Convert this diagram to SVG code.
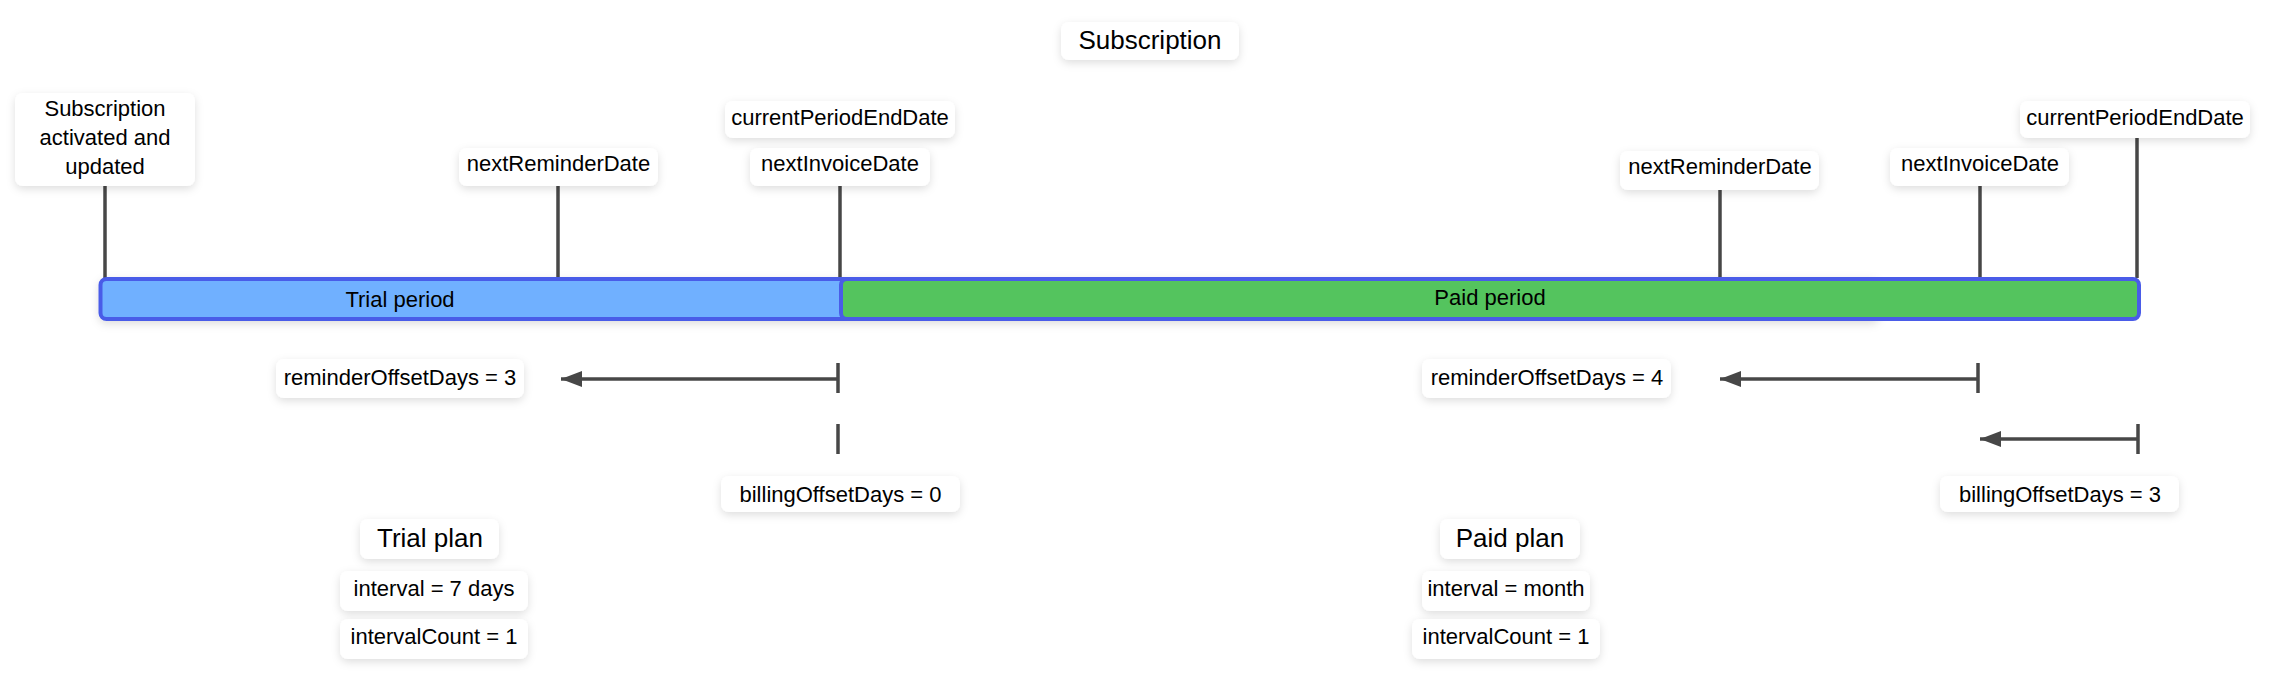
<svg xmlns="http://www.w3.org/2000/svg" width="2290" height="698" viewBox="0 0 2290 698">
<style>
.box{fill:#fff;filter:url(#sh)}
.t{font-family:"Liberation Sans",Arial,sans-serif;font-size:22px;fill:#000;text-anchor:middle;dominant-baseline:central}
.big{font-size:26px}
.ln{stroke:#474747;stroke-width:3.5;fill:none}
.ar{stroke:#474747;stroke-width:3.5;fill:none;marker-end:url(#ah)}
.bar{stroke:#4a5ce8;stroke-width:4}
</style>
<defs>
<filter id="sh" x="-20%" y="-30%" width="140%" height="180%">
<feDropShadow dx="0" dy="3" stdDeviation="4" flood-color="#000" flood-opacity="0.13"/>
</filter>
<marker id="ah" markerUnits="userSpaceOnUse" markerWidth="22" markerHeight="16" refX="21" refY="8" orient="auto">
<path d="M0,0 L21,8 L0,16 Z" fill="#474747"/>
</marker>
</defs>
<rect width="2290" height="698" fill="#fff"/>
<g id="connectors">
<line class="ln" x1="105" y1="186" x2="105" y2="278"/>
<line class="ln" x1="558" y1="186" x2="558" y2="278"/>
<line class="ln" x1="840" y1="186" x2="840" y2="278"/>
<line class="ln" x1="1720" y1="190" x2="1720" y2="278"/>
<line class="ln" x1="1980" y1="186" x2="1980" y2="278"/>
<line class="ln" x1="2137" y1="138" x2="2137" y2="278"/>
<line class="ln" x1="838" y1="363" x2="838" y2="393"/>
<line class="ar" x1="838" y1="379" x2="561" y2="379"/>
<line class="ln" x1="838" y1="424" x2="838" y2="454"/>
<line class="ln" x1="1978" y1="363" x2="1978" y2="393"/>
<line class="ar" x1="1978" y1="379" x2="1720" y2="379"/>
<line class="ln" x1="2138" y1="424" x2="2138" y2="454"/>
<line class="ar" x1="2138" y1="439" x2="1980" y2="439"/>
</g>
<g id="trial-period">
<rect class="bar" x="100.5" y="279" width="1777" height="40" rx="6" fill="#6fb0ff" filter="url(#sh)"/>
<text class="t" x="400" y="299">Trial period</text>
</g>
<g id="paid-period">
<rect class="bar" x="841" y="279" width="1298" height="40" rx="6" fill="#54c45e"/>
<text class="t" x="1490" y="297">Paid period</text>
</g>
<g id="title"><rect class="box" x="1061" y="22" width="178" height="38" rx="8"/><text class="t big" x="1150" y="40">Subscription</text></g>
<g id="activated"><rect class="box" x="15" y="93" width="180" height="93" rx="8"/>
<text class="t" x="105" y="108">Subscription</text><text class="t" x="105" y="137">activated and</text><text class="t" x="105" y="166">updated</text></g>
<g id="next-reminder-1"><rect class="box" x="459" y="148" width="199" height="38" rx="8"/><text class="t" x="558.5" y="163">nextReminderDate</text></g>
<g id="current-end-1"><rect class="box" x="725" y="101" width="230" height="37" rx="8"/><text class="t" x="840" y="117">currentPeriodEndDate</text></g>
<g id="next-invoice-1"><rect class="box" x="750" y="148" width="180" height="38" rx="8"/><text class="t" x="840" y="163">nextInvoiceDate</text></g>
<g id="next-reminder-2"><rect class="box" x="1620" y="151" width="199" height="39" rx="8"/><text class="t" x="1720" y="166">nextReminderDate</text></g>
<g id="next-invoice-2"><rect class="box" x="1890" y="148" width="179" height="38" rx="8"/><text class="t" x="1980" y="163">nextInvoiceDate</text></g>
<g id="current-end-2"><rect class="box" x="2020" y="101" width="230" height="37" rx="8"/><text class="t" x="2135" y="117">currentPeriodEndDate</text></g>
<g id="reminder-offset-3"><rect class="box" x="276" y="359" width="248" height="39" rx="8"/><text class="t" x="400" y="377">reminderOffsetDays = 3</text></g>
<g id="billing-offset-0"><rect class="box" x="721" y="476" width="239" height="36" rx="8"/><text class="t" x="840.5" y="494">billingOffsetDays = 0</text></g>
<g id="trial-plan"><rect class="box" x="360" y="519" width="139" height="40" rx="8"/><text class="t big" x="430" y="538">Trial plan</text></g>
<g id="trial-interval"><rect class="box" x="340" y="571" width="188" height="40" rx="8"/><text class="t" x="434" y="588">interval = 7 days</text></g>
<g id="trial-count"><rect class="box" x="340" y="619" width="188" height="40" rx="8"/><text class="t" x="434" y="636">intervalCount = 1</text></g>
<g id="reminder-offset-4"><rect class="box" x="1422" y="359" width="249" height="39" rx="8"/><text class="t" x="1547" y="377">reminderOffsetDays = 4</text></g>
<g id="billing-offset-3"><rect class="box" x="1940" y="476" width="239" height="36" rx="8"/><text class="t" x="2060" y="494">billingOffsetDays = 3</text></g>
<g id="paid-plan"><rect class="box" x="1440" y="519" width="140" height="40" rx="8"/><text class="t big" x="1510" y="538">Paid plan</text></g>
<g id="paid-interval"><rect class="box" x="1422" y="571" width="168" height="40" rx="8"/><text class="t" x="1506" y="588">interval = month</text></g>
<g id="paid-count"><rect class="box" x="1412" y="619" width="188" height="40" rx="8"/><text class="t" x="1506" y="636">intervalCount = 1</text></g>
</svg>
